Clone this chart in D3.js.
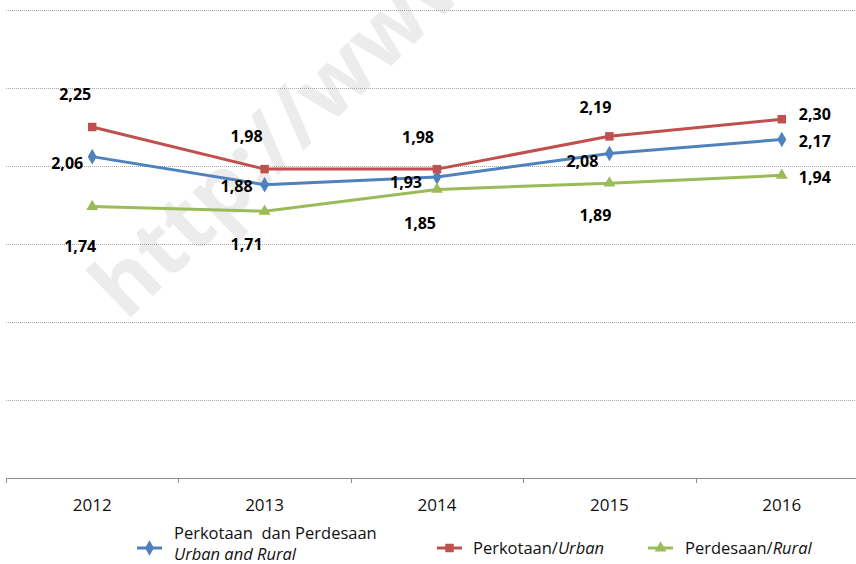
<!DOCTYPE html>
<html lang="id">
<head>
    <meta charset="utf-8">
    <title>Line chart</title>
    <script src="https://cdn.jsdelivr.net/npm/d3@7"></script>
    <style>
        body { margin: 0; background: #fff; }
        svg { display: block; font-family: "Open Sans", sans-serif; }
        .grid line { stroke: #a6a6a6; stroke-dasharray: 1 1; }
        .val { font-weight: bold; font-size: 16px; fill: #000; }
        .leg { font-size: 16.5px; fill: #111; white-space: pre; }
    </style>
</head>
<body>
<div id="chart"></div>
<script>
    var width = 856, height = 564;

    // data
    var years = ["2012", "2013", "2014", "2015", "2016"];
    var total = [2.06, 1.88, 1.93, 2.08, 2.17];
    var urban = [2.25, 1.98, 1.98, 2.19, 2.30];
    var rural = [1.74, 1.71, 1.85, 1.89, 1.94];
    var gridValues = [0.5, 1, 1.5, 2, 2.5, 3];

    var series = [
        { key: "total", values: total, color: "#4f81bd", marker: d3.symbolDiamond,
          // label offsets relative to the point
          off: [[-25, 7], [-28, 2], [-31, 5], [-27, 7.5], [33, 1.5]] },
        { key: "urban", values: urban, color: "#c0504d", marker: d3.symbolSquare,
          off: [[-17, -33], [-18, -33], [-19, -32], [-14, -29], [33, -5]] },
        { key: "rural", values: rural, color: "#9bbb59", marker: d3.symbolTriangle,
          off: [[-12, 40], [-18, 33], [-17, 34], [-14, 32], [33, 1.6]] }
    ];

    var svg = d3.select('#chart').append('svg')
        .attr('width', width)
        .attr('height', height);

    // watermark
    svg.append('text')
        .attr('transform', 'translate(126,322) rotate(-44)')
        .style('font-size', '86px')
        .style('font-weight', 'bold')
        .style('fill', '#ececec')
        .text('http://www.bps.go.id');

    var x = d3.scaleBand().domain(years).range([6, 868]);
    var y = d3.scaleLinear().domain([0, 3]).range([478, 10]);
    var cx = function (d) { return x(d) + x.bandwidth() / 2; };

    // gridlines
    svg.append('g').attr('class', 'grid')
        .selectAll('line').data(gridValues).enter().append('line')
        .attr('x1', 6).attr('x2', width)
        .attr('y1', function (d) { return Math.round(y(d)) + 0.5; })
        .attr('y2', function (d) { return Math.round(y(d)) + 0.5; });

    // x axis
    var axis = svg.append('g');
    axis.append('line')
        .attr('x1', 6).attr('x2', width)
        .attr('y1', y(0) + 0.5).attr('y2', y(0) + 0.5)
        .attr('stroke', '#8c8c8c');
    axis.selectAll('.tick').data(years).enter().append('line')
        .attr('x1', function (d) { return Math.round(x(d)) + 0.5; })
        .attr('x2', function (d) { return Math.round(x(d)) + 0.5; })
        .attr('y1', y(0)).attr('y2', y(0) + 5)
        .attr('stroke', '#8c8c8c');
    axis.selectAll('.lab').data(years).enter().append('text')
        .attr('x', cx)
        .attr('y', 511)
        .attr('text-anchor', 'middle')
        .style('font-size', '17px')
        .style('fill', '#111')
        .text(function (d) { return d; });

    var line = d3.line()
        .x(function (d, i) { return cx(years[i]); })
        .y(function (d) { return y(d); });

    var markerSize = { total: 70, urban: 72, rural: 60 };

    series.forEach(function (s) {
        var g = svg.append('g');
        g.append('path')
            .attr('d', line(s.values))
            .attr('fill', 'none')
            .attr('stroke', s.color)
            .attr('stroke-width', 3);
        g.selectAll('path.m').data(s.values).enter().append('path')
            .attr('class', 'm')
            .attr('d', d3.symbol().type(s.marker).size(markerSize[s.key]))
            .attr('transform', function (d, i) { return 'translate(' + cx(years[i]) + ',' + y(d) + ')'; })
            .attr('fill', s.color);
    });

    // value labels
    series.forEach(function (s) {
        svg.append('g').selectAll('text').data(s.values).enter().append('text')
            .attr('class', 'val')
            .attr('x', function (d, i) { return cx(years[i]) + s.off[i][0]; })
            .attr('y', function (d, i) { return y(d) + s.off[i][1] + 5.7; })
            .attr('text-anchor', 'middle')
            .text(function (d) { return d3.format('.2f')(d).replace('.', ','); });
    });

    // legend
    var legend = [
        { s: series[0], lx: 137, tx: 174, lines: [["Perkotaan  dan Perdesaan", null], ["Urban and Rural", "italic"]] },
        { s: series[1], lx: 437, tx: 473, lines: [["Perkotaan/", null, "Urban"]] },
        { s: series[2], lx: 648, tx: 685, lines: [["Perdesaan/", null, "Rural"]] }
    ];
    var ly = 548;
    legend.forEach(function (l) {
        var g = svg.append('g');
        g.append('line')
            .attr('x1', l.lx).attr('x2', l.lx + 25)
            .attr('y1', ly).attr('y2', ly)
            .attr('stroke', l.s.color).attr('stroke-width', 3);
        g.append('path')
            .attr('d', d3.symbol().type(l.s.marker).size(markerSize[l.s.key]))
            .attr('transform', 'translate(' + (l.lx + 12.5) + ',' + ly + ')')
            .attr('fill', l.s.color);
        if (l.lines.length === 2) {
            g.append('text').attr('class', 'leg').attr('x', l.tx).attr('y', 539)
                .text(l.lines[0][0]);
            g.append('text').attr('class', 'leg').attr('x', l.tx).attr('y', 560)
                .style('font-style', 'italic')
                .text(l.lines[1][0]);
        } else {
            var t = g.append('text').attr('class', 'leg').attr('x', l.tx).attr('y', ly + 5.5);
            t.append('tspan').text(l.lines[0][0]);
            t.append('tspan').style('font-style', 'italic').text(l.lines[0][2]);
        }
    });
</script>
</body>
</html>
